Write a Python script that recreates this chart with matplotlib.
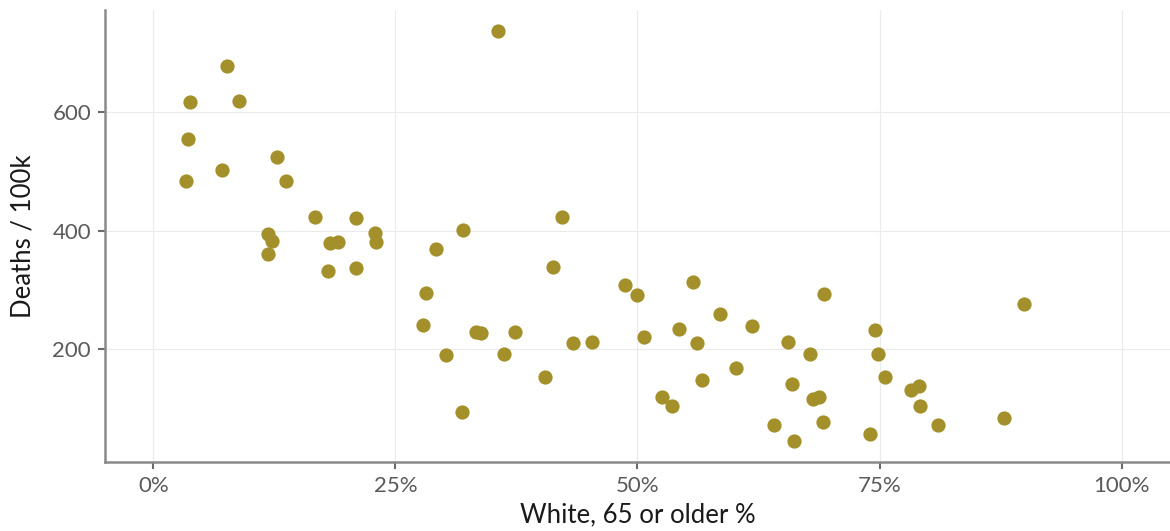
import numpy as np
import matplotlib.pyplot as plt
from matplotlib.ticker import FuncFormatter

# Share of white residents aged 65+ (%) vs deaths per 100k
white_65_pct = [35.6, 7.6, 3.8, 8.8, 3.6, 3.4, 7.1, 12.8, 13.7, 16.7,
                20.9, 11.8, 12.3, 11.8, 18.2, 19.1, 18.0, 20.9, 22.9, 23.0,
                27.9, 28.2, 29.2, 30.2, 32.0, 31.9, 33.3, 33.8, 36.2, 37.3,
                40.5, 41.3, 42.2, 43.3, 45.3, 48.7, 50.0, 50.7, 52.5, 53.6,
                54.3, 55.7, 56.1, 56.7, 58.5, 60.2, 61.8, 64.1, 65.5, 66.0,
                66.2, 67.8, 68.1, 68.7, 69.2, 69.3, 74.0, 74.5, 74.8, 75.6,
                78.2, 79.1, 79.2, 81.0, 87.9, 89.9]
deaths_100k = [737, 678, 617, 619, 554, 484, 502, 524, 484, 423,
               421, 394, 382, 360, 379, 381, 332, 337, 396, 381,
               241, 295, 369, 190, 401, 95, 229, 227, 192, 230,
               153, 338, 423, 210, 213, 308, 291, 220, 119, 104,
               234, 313, 210, 148, 259, 168, 239, 72, 212, 141,
               45, 192, 117, 119, 78, 293, 58, 232, 192, 153,
               132, 138, 104, 73, 84, 276]

x_ticks = [0, 25, 50, 75, 100]
y_ticks = [200, 400, 600]

plt.rcParams['font.family'] = ['Lato', 'DejaVu Sans']

fig = plt.figure(figsize=(11.7, 5.31), dpi=100)
ax = fig.add_axes([0.0897, 0.130, 0.9103, 0.851])

ax.scatter(white_65_pct, deaths_100k, s=105, color='#A3902A', linewidths=0, zorder=3)

ax.set_xlim(-5, 105)
ax.set_ylim(10, 772)
ax.set_xticks(x_ticks)
ax.set_yticks(y_ticks)
ax.xaxis.set_major_formatter(FuncFormatter(lambda v, p: f"{v:.0f}%"))

ax.grid(True, color='#EBEBEB', linewidth=0.8, zorder=0)
ax.set_axisbelow(True)

for side in ['top', 'right']:
    ax.spines[side].set_visible(False)
for side in ['left', 'bottom']:
    ax.spines[side].set_color('#8A8A8A')
    ax.spines[side].set_linewidth(1.8)

ax.tick_params(axis='both', length=5, width=1.5, color='#6A6A6A',
               labelsize=16, labelcolor='#5A5A5A', pad=5)

ax.set_xlabel("White, 65 or older %", fontsize=18.5, color='#1A1A1A', labelpad=5)
ax.set_ylabel("Deaths / 100k", fontsize=18.5, color='#1A1A1A', labelpad=12)

fig.savefig("out.png", dpi=100)
